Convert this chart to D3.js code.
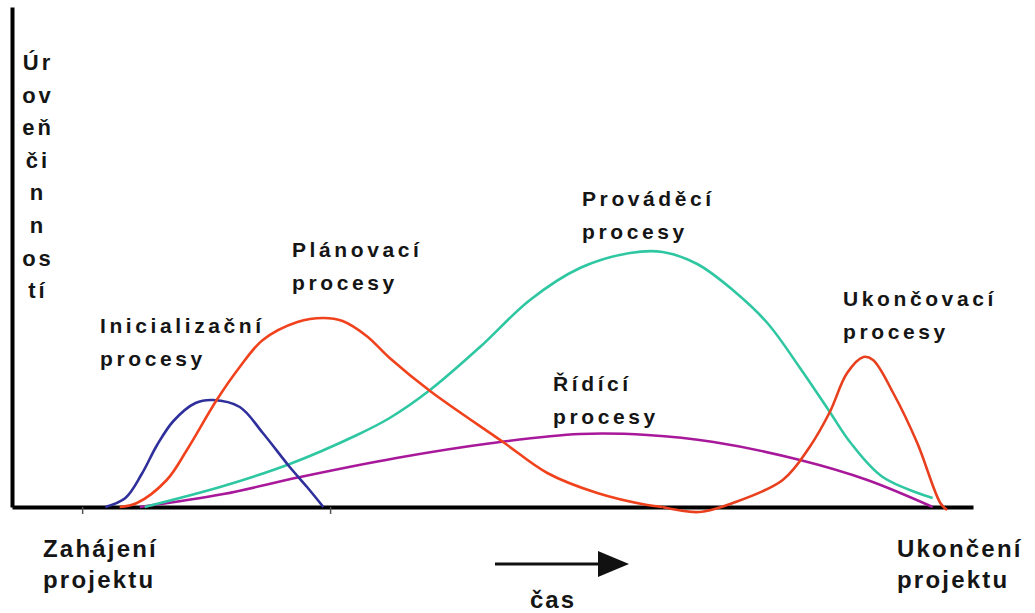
<!DOCTYPE html>
<html>
<head>
<meta charset="utf-8">
<script src="https://cdn.jsdelivr.net/npm/d3@7"></script>
<style>
  body { margin: 0; background: #fff; }
  svg { display: block; }
  text { font-family: "Liberation Sans", Arial, sans-serif; font-weight: bold; fill: #151515; }
</style>
</head>
<body>
<div id="chart"></div>
<script>
// time (0-100) and activity level (0-100)
const initiation = [[9.7, 0], [11.8, 1.8], [13.5, 6.6], [15.1, 12.4], [16.8, 17.2], [19.1, 20.8], [20.9, 21.4],
  [23.7, 20], [26.1, 14.8], [28.9, 8], [30.7, 4], [32.4, 0]];
const planning = [[11.2, 0], [13, 0.8], [16.1, 5.4], [18.2, 11.4], [21.3, 21.4], [23.7, 28], [26.1, 33.4],
  [29.7, 37], [32.4, 37.8], [34.4, 37.2], [36.9, 34.2], [39.3, 29.8], [43.5, 23.2], [51.1, 13], [55.7, 6.8],
  [60.9, 2.8], [66.1, 0.4], [67.7, 0]];
const execution = [[13.8, 0], [22, 4.2], [28.9, 8.6], [35.9, 14.4], [39.3, 17.8], [43.5, 23.4], [48.7, 32],
  [53.9, 41.4], [59.1, 47.8], [64.3, 50.8], [67.7, 51], [71.3, 48.6], [75, 43.4], [78.6, 36.8], [82, 27.8],
  [85.1, 19], [87.2, 13], [90.6, 6], [95.8, 1.8]];
const control = [[13.3, 0], [22, 2.6], [30, 6], [40, 9.8], [50, 12.8], [59.1, 14.6], [66.1, 14.4],
  [73, 13], [82, 9.4], [89, 5.4], [95.8, 0]];
const closing = [[67.7, 0], [71.5, -1], [75, 0.8], [80.2, 5.4], [83, 12], [85.1, 19], [86.9, 26.8], [88.6, 30],
  [89.6, 29.4], [91.7, 22.8], [94.2, 12.8], [96.6, 0.8], [97.3, -0.6]];

const xTicks = [7.3, 33.1];
const yLabel = ['Úr', 'ov', 'eň', 'či', 'n', 'n', 'os', 'tí'];
const processNames = [['Inicializační', 'procesy'], ['Plánovací', 'procesy'], ['Prováděcí', 'procesy'],
  ['Řídící', 'procesy'], ['Ukončovací', 'procesy']];
const endNames = [['Zahájení', 'projektu'], ['Ukončení', 'projektu']];
const timeLabel = 'čas';

const width = 1035, height = 613;
const svg = d3.select('#chart').append('svg').attr('width', width).attr('height', height);

const x = d3.scaleLinear().domain([0, 100]).range([12, 973]);
const y = d3.scaleLinear().domain([0, 100]).range([507, 7]);

// axes
const xAxis = svg.append('g')
  .attr('transform', `translate(0,${y(0)})`)
  .call(d3.axisBottom(x).tickValues(xTicks).tickSize(7).tickSizeOuter(0).tickFormat(''));
xAxis.select('.domain').attr('stroke', '#000').attr('stroke-width', 4);
xAxis.selectAll('.tick line').attr('stroke', '#555').attr('stroke-width', 1.5);

const yAxis = svg.append('g')
  .attr('transform', `translate(${x(0)},0)`)
  .call(d3.axisLeft(y).tickValues([]).tickSizeOuter(0));
yAxis.select('.domain').attr('stroke', '#000').attr('stroke-width', 4);

// curves
const line = d3.line()
  .x(d => x(d[0]))
  .y(d => y(d[1]))
  .curve(d3.curveCatmullRom.alpha(0.5));

const series = [
  { data: control, color: '#a8189a' },
  { data: execution, color: '#2ec7a2' },
  { data: initiation, color: '#30309c' },
  { data: planning, color: '#f0421c' },
  { data: closing, color: '#e8401e' }
];

svg.selectAll('.curve')
  .data(series)
  .enter()
  .append('path')
  .attr('class', 'curve')
  .attr('d', d => line(d.data))
  .attr('fill', 'none')
  .attr('stroke', d => d.color)
  .attr('stroke-width', 2.6);

// process labels
const labelPos = [
  { x: 100, y: 333 }, { x: 292, y: 257 }, { x: 582, y: 206 }, { x: 553, y: 391 }, { x: 843, y: 306 }
];
processNames.forEach((lines, i) => {
  const t = svg.append('text')
    .attr('x', labelPos[i].x)
    .attr('y', labelPos[i].y)
    .style('font-size', '21px')
    .style('letter-spacing', '3.6px');
  lines.forEach((s, j) => {
    t.append('tspan').attr('x', labelPos[i].x).attr('dy', j === 0 ? 0 : 32.5).text(s);
  });
});

// y label, stacked
svg.append('g').selectAll('text')
  .data(yLabel)
  .enter()
  .append('text')
  .attr('x', 38)
  .attr('y', (d, i) => 70 + i * 32.6)
  .attr('text-anchor', 'middle')
  .style('font-size', '22px')
  .style('letter-spacing', '3px')
  .text(d => d);

// start / end labels
const endPos = [{ x: 43, y: 557 }, { x: 897, y: 557 }];
endNames.forEach((lines, i) => {
  const t = svg.append('text')
    .attr('x', endPos[i].x)
    .attr('y', endPos[i].y)
    .style('font-size', '24px')
    .style('letter-spacing', '2.2px');
  lines.forEach((s, j) => {
    t.append('tspan').attr('x', endPos[i].x).attr('dy', j === 0 ? 0 : 31).text(s);
  });
});

// time arrow
svg.append('line')
  .attr('x1', 495).attr('x2', 600)
  .attr('y1', 564).attr('y2', 564)
  .attr('stroke', '#111').attr('stroke-width', 3);
svg.append('path')
  .attr('d', 'M598,551 L629,564 L598,577 Z')
  .attr('fill', '#111');
svg.append('text')
  .attr('x', 553)
  .attr('y', 608)
  .attr('text-anchor', 'middle')
  .style('font-size', '24px')
  .style('letter-spacing', '2px')
  .text(timeLabel);
</script>
</body>
</html>
